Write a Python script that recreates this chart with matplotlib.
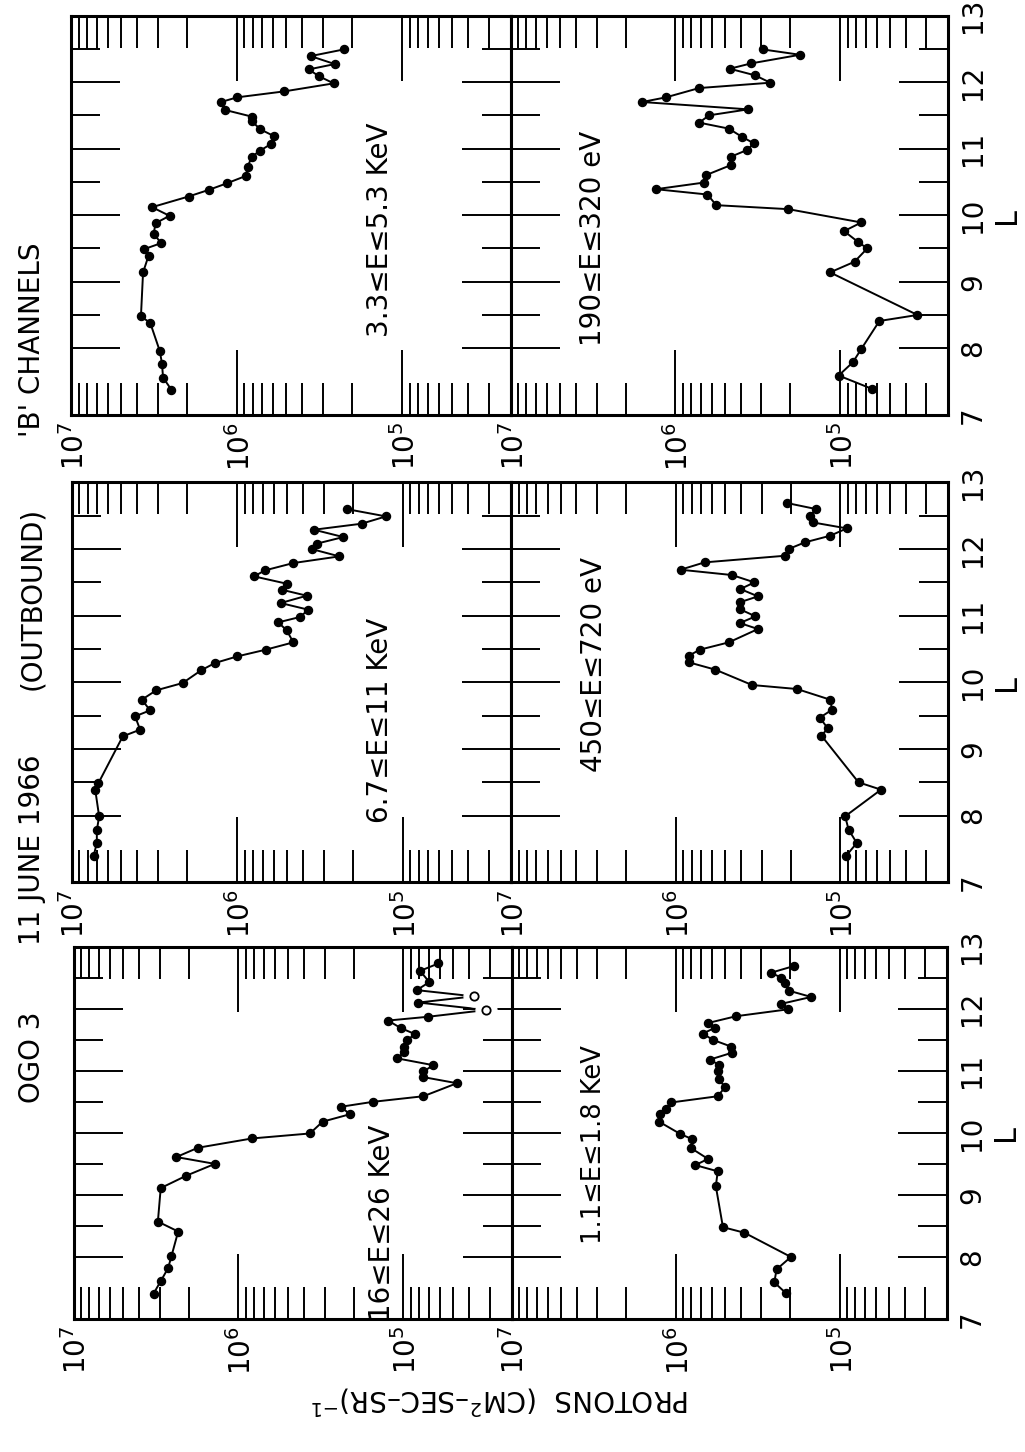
import matplotlib
matplotlib.use("Agg")
import matplotlib.pyplot as plt
from matplotlib.ticker import FixedLocator
from matplotlib.transforms import offset_copy

plt.rcParams["font.family"] = ["DejaVu Sans"]
plt.rcParams["mathtext.fontset"] = "dejavusans"

W, H = 1025, 1452

# ---- data: L shell and proton flux (cm^-2 s^-1 sr^-1) ----
# 3.3 <= E <= 5.3 keV
L_33 = [7.38, 7.56, 7.77, 7.96, 8.38, 8.48, 9.14, 9.39, 9.49, 9.58, 9.72, 9.88,
        9.99, 10.12, 10.28, 10.38, 10.48, 10.59, 10.73, 10.88, 10.97, 11.07, 11.19,
        11.29, 11.41, 11.48, 11.58, 11.70, 11.77, 11.86, 11.98, 12.09, 12.19, 12.27,
        12.39, 12.49]
F_33 = [2.48e6, 2.78e6, 2.82e6, 2.91e6, 3.32e6, 3.78e6, 3.67e6, 3.40e6, 3.61e6,
        2.85e6, 3.17e6, 3.08e6, 2.54e6, 3.24e6, 1.95e6, 1.47e6, 1.14e6, 8.77e5,
        8.57e5, 8.07e5, 7.19e5, 6.19e5, 5.97e5, 7.19e5, 8.07e5, 8.07e5, 1.17e6,
        1.24e6, 9.93e5, 5.14e5, 2.59e5, 3.19e5, 3.66e5, 2.55e5, 3.57e5, 2.25e5]

# 190 <= E <= 320 eV
L_190 = [7.39, 7.59, 7.79, 7.99, 8.41, 8.50, 9.14, 9.30, 9.50, 9.60, 9.76, 9.89,
         10.09, 10.15, 10.31, 10.39, 10.49, 10.60, 10.75, 10.88, 10.98, 11.08,
         11.18, 11.30, 11.39, 11.50, 11.59, 11.70, 11.77, 11.91, 11.99, 12.10,
         12.20, 12.28, 12.41, 12.49]
F_190 = [6.41e4, 1.02e5, 8.36e4, 7.43e4, 5.77e4, 3.39e4, 1.15e5, 8.17e4, 6.84e4,
         7.80e4, 9.46e4, 7.43e4, 2.06e5, 5.64e5, 6.38e5, 1.31e6, 6.68e5, 6.53e5,
         4.62e5, 4.58e5, 3.66e5, 3.34e5, 3.96e5, 4.73e5, 7.16e5, 6.24e5, 3.61e5,
         1.59e6, 1.14e6, 7.16e5, 2.65e5, 3.27e5, 4.67e5, 3.47e5, 1.75e5, 2.94e5]

# 6.7 <= E <= 11 keV
L_67 = [7.39, 7.59, 7.78, 7.99, 8.39, 8.49, 9.19, 9.29, 9.49, 9.58, 9.74, 9.88,
        9.99, 10.18, 10.29, 10.39, 10.49, 10.60, 10.78, 10.90, 10.98, 11.09, 11.19,
        11.30, 11.39, 11.48, 11.59, 11.68, 11.79, 11.89, 12.00, 12.08, 12.18, 12.29,
        12.38, 12.49, 12.60]
F_67 = [7.36e6, 7.03e6, 7.03e6, 6.81e6, 7.19e6, 6.87e6, 4.90e6, 3.85e6, 4.13e6,
        3.35e6, 3.76e6, 3.08e6, 2.13e6, 1.65e6, 1.36e6, 9.95e5, 6.71e5, 4.57e5,
        5.01e5, 5.64e5, 4.17e5, 3.71e5, 5.45e5, 3.79e5, 5.37e5, 5.01e5, 7.89e5,
        6.78e5, 4.57e5, 2.41e5, 3.54e5, 3.31e5, 2.28e5, 3.43e5, 1.77e5, 1.26e5,
        2.18e5]

# 450 <= E <= 720 eV
L_450 = [7.39, 7.59, 7.79, 7.99, 8.39, 8.50, 9.20, 9.31, 9.47, 9.59, 9.74, 9.90,
         9.96, 10.19, 10.30, 10.40, 10.49, 10.60, 10.80, 10.89, 10.99, 11.10,
         11.20, 11.29, 11.40, 11.50, 11.61, 11.69, 11.80, 11.90, 12.00, 12.10,
         12.20, 12.31, 12.40, 12.50, 12.60, 12.69]
F_450 = [9.25e4, 7.93e4, 8.89e4, 9.33e4, 5.65e4, 7.74e4, 1.30e5, 1.19e5, 1.33e5,
         1.12e5, 1.15e5, 1.83e5, 3.43e5, 5.73e5, 8.30e5, 8.30e5, 7.13e5, 4.75e5,
         3.16e5, 4.07e5, 3.27e5, 4.09e5, 4.09e5, 3.16e5, 4.04e5, 3.32e5, 4.54e5,
         9.33e5, 6.67e5, 2.15e5, 2.06e5, 1.64e5, 1.15e5, 9.12e4, 1.47e5, 1.53e5,
         1.40e5, 2.10e5]

# 16 <= E <= 26 keV (two open circles in the line)
L_16 = [7.41, 7.61, 7.82, 8.01, 8.41, 8.57, 9.11, 9.31, 9.50, 9.61, 9.76, 9.91,
        9.99, 10.18, 10.30, 10.42, 10.50, 10.59, 10.80, 10.90, 10.99, 11.09, 11.20,
        11.30, 11.39, 11.50, 11.59, 11.69, 11.81, 11.87, 11.98, 12.10, 12.20, 12.30,
        12.43, 12.61, 12.73]
F_16 = [3.27e6, 2.96e6, 2.67e6, 2.55e6, 2.32e6, 3.08e6, 2.96e6, 2.07e6, 1.39e6,
        2.38e6, 1.76e6, 8.26e5, 3.69e5, 3.09e5, 2.11e5, 2.40e5, 1.53e5, 7.57e4,
        4.74e4, 7.64e4, 7.57e4, 6.58e4, 1.09e5, 9.91e4, 9.86e4, 9.46e4, 8.49e4,
        1.04e5, 1.24e5, 7.14e4, 3.15e4, 8.11e4, 3.76e4, 8.30e4, 6.97e4, 7.93e4,
        6.14e4]
OPEN_16 = [30, 32]

# 1.1 <= E <= 1.8 keV
L_11 = [7.42, 7.59, 7.80, 8.00, 8.39, 8.48, 9.14, 9.38, 9.48, 9.58, 9.75, 9.90,
        9.98, 10.18, 10.30, 10.39, 10.49, 10.59, 10.74, 10.86, 10.99, 11.10, 11.18,
        11.29, 11.39, 11.50, 11.60, 11.69, 11.77, 11.88, 11.99, 12.08, 12.19, 12.29,
        12.41, 12.50, 12.58, 12.69]
F_11 = [2.13e5, 2.50e5, 2.42e5, 1.98e5, 3.80e5, 5.14e5, 5.68e5, 5.53e5, 7.57e5,
        6.34e5, 8.00e5, 7.93e5, 9.33e5, 1.26e6, 1.24e6, 1.14e6, 1.06e6, 5.53e5,
        4.98e5, 5.46e5, 5.51e5, 5.46e5, 6.19e5, 4.54e5, 4.58e5, 5.94e5, 6.82e5,
        5.78e5, 6.34e5, 4.27e5, 2.07e5, 2.26e5, 1.49e5, 2.03e5, 2.15e5, 2.26e5,
        2.62e5, 1.89e5]

L_TICKS = [7, 8, 9, 10, 11, 12, 13]
DECADES = [7, 6, 5]
HEADERS = ["OGO 3", "11 JUNE 1966", "(OUTBOUND)", "'B' CHANNELS"]

# ---- layout (pixels in the rotated page) ----
# rows of the page: (top, bottom, left edge, shared edge, right edge)
rows = [(15.5, 414.8, 71.0, 510.5, 948.0),
        (482.4, 882.3, 71.5, 511.0, 948.0),
        (946.7, 1319.0, 73.5, 511.5, 947.0)]

# row, col, L, flux, label, label baseline x, label centre y, label size
panels = [
    (0, 0, L_33, F_33, "3.3≤E≤5.3 KeV", 388, 230, 20),
    (0, 1, L_190, F_190, "190≤E≤320 eV", 601, 238, 20),
    (1, 0, L_67, F_67, "6.7≤E≤11 KeV", 388, 720, 20),
    (1, 1, L_450, F_450, "450≤E≤720 eV", 602, 665, 20),
    (2, 0, L_16, F_16, "16≤E≤26 KeV", 390, 1223, 20),
    (2, 1, L_11, F_11, "1.1≤E≤1.8 KeV", 601, 1145, 18.5),
]

fig = plt.figure(figsize=(W / 100, H / 100), dpi=100)


def fx(px):
    return px / W


def fy(py):
    return 1 - py / H


for r, c, L, F, label, lx, ly, lsize in panels:
    top, bot, x0, xm, x1 = rows[r]
    left, right = (x0, xm) if c == 0 else (xm, x1)
    ax = fig.add_axes([fx(left), fy(bot), (right - left) / W, (bot - top) / H])
    ax.set_xscale("log")
    ax.set_xlim(1e7, 10 ** 4.345)
    ax.set_ylim(7, 13)

    if L is L_16:
        filled = [i for i in range(len(L)) if i not in OPEN_16]
        ax.plot(F, L, "-", color="black", lw=1.4, zorder=2)
        ax.plot([F[i] for i in OPEN_16], [L[i] for i in OPEN_16], "o",
                color="white", ms=15, zorder=2.2)
        ax.plot([F[i] for i in filled], [L[i] for i in filled], "o",
                color="black", ms=5.8, zorder=3)
        ax.plot([F[i] for i in OPEN_16], [L[i] for i in OPEN_16], "o",
                mfc="white", mec="black", mew=1.3, ms=6, zorder=3)
    else:
        ax.plot(F, L, "-o", color="black", lw=1.4, ms=5.8)

    # flux ticks (log) on both L edges
    ax.xaxis.set_major_locator(FixedLocator([1e5, 1e6, 1e7]))
    ax.xaxis.set_minor_locator(FixedLocator(
        [m * 10.0 ** e for e in (4, 5, 6) for m in range(2, 10)]))
    ax.tick_params(axis="x", which="major", direction="in", length=47, width=1.4,
                   top=True, bottom=True, labelbottom=False, labeltop=False)
    ax.tick_params(axis="x", which="minor", direction="in", length=23, width=1.4,
                   top=True, bottom=True, labelbottom=False, labeltop=False)
    # L ticks on both flux edges
    ax.yaxis.set_major_locator(FixedLocator([8, 9, 10, 11, 12]))
    ax.yaxis.set_minor_locator(FixedLocator([8.5, 9.5, 10.5, 11.5, 12.5]))
    ax.tick_params(axis="y", which="major", direction="in", length=35, width=1.4,
                   left=True, right=True, labelleft=False, labelright=False)
    ax.tick_params(axis="y", which="minor", direction="in", length=21, width=1.4,
                   left=True, right=True, labelleft=False, labelright=False)
    for sp in ax.spines.values():
        sp.set_linewidth(2.2)

    # decade labels under each panel
    tr = offset_copy(ax.get_xaxis_transform(), fig=fig, x=13, y=-7, units="dots")
    for e in DECADES:
        ax.text(10.0 ** e, 0, r"$10^{%d}$" % e, transform=tr, rotation=90,
                rotation_mode="anchor", ha="right", va="baseline", fontsize=20,
                clip_on=False)

    # L scale on the right of the page
    if c == 1:
        trl = offset_copy(ax.get_yaxis_transform(), fig=fig, x=33, y=0, units="dots")
        for v in L_TICKS:
            ax.text(1, v, str(v), transform=trl, rotation=90, rotation_mode="anchor",
                    ha="center", va="baseline", fontsize=20, clip_on=False)
        trL = offset_copy(ax.transAxes, fig=fig, x=67, y=0, units="dots")
        ax.text(1, 0.5, "L", transform=trL, rotation=90, rotation_mode="anchor",
                ha="center", va="baseline", fontsize=22, clip_on=False)

    fig.text(fx(lx), fy(ly), label, rotation=90, rotation_mode="anchor",
             ha="center", va="baseline", fontsize=lsize)

# header along the left edge of the page
for text, yc in zip(HEADERS, [1057, 850, 598, 340]):
    fig.text(fx(40), fy(yc), text, rotation=90, rotation_mode="anchor",
             ha="center", va="baseline", fontsize=20)

# y axis title (upside down on the page)
fig.text(fx(500), fy(1390), r"PROTONS  (CM$^{2}$–SEC–SR)$^{-1}$", rotation=180,
         rotation_mode="anchor", ha="center", va="baseline", fontsize=20)

fig.savefig("out.png", dpi=100)
